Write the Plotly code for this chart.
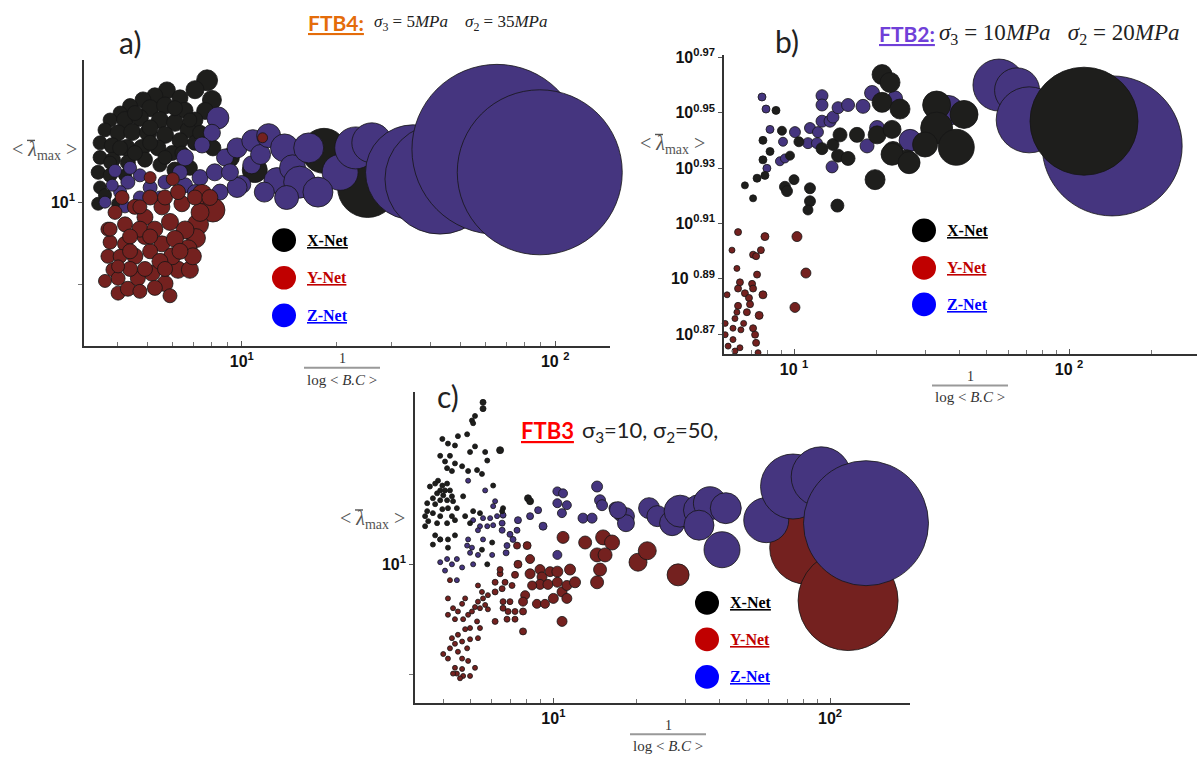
import plotly.graph_objects as go

# ---------------- data ----------------
# Panel a  (FTB4)
a_xnet_x = [7.75,7.09,8.03,7.64,5.77,6.35,5.28,4.84,4.40,4.09,5.10,5.69,6.59,7.09,3.80,4.24,4.73,5.48,6.12,6.74,
            3.66,4.03,4.47,5.02,5.69,6.35,7.09,3.53,3.86,4.30,4.80,5.40,5.99,3.53,3.88,4.33,4.91,5.48,3.48,3.80,
            4.24,3.53,3.48,4.03,6.12,6.83,3.66,7.36,8.09,9.17,11.0,18.3,25.2,
            4.56,5.10,4.09,4.56,5.10,5.69,6.44,3.80,6.12,6.83]
a_xnet_y = [11.69,11.55,11.40,11.24,11.54,11.43,11.46,11.40,11.31,11.21,11.28,11.32,11.25,11.11,11.11,11.11,11.14,11.11,11.07,10.97,
            10.97,10.93,10.94,10.93,10.90,10.82,10.79,10.79,10.75,10.72,10.72,10.72,10.65,10.59,10.56,10.52,10.56,10.49,10.39,10.35,
            10.35,10.19,9.98,9.98,10.42,10.45,10.09,10.93,10.72,10.59,10.42,10.68,10.19,
            11.21,11.00,10.72,10.65,10.79,10.59,10.65,10.52,11.28,11.11]
a_xnet_s = [21,18,19,17,17,16,16,16,15,14,17,17,16,16,14,17,17,17,17,16,
            14,16,17,17,17,16,15,14,16,17,17,16,15,14,15,15,15,14,14,14,
            13,13,13,13,16,15,13,15,16,19,25,45,60,
            15,16,15,15,15,14,14,13,15,14]

a_ynet_x = [7.47,8.09,7.25,7.14,6.26,5.69,4.03,4.33,3.74,3.88,4.91,5.56,4.56,5.17,5.99,6.59,4.24,5.56,6.44,4.24,
            4.91,4.15,6.02,3.80,3.94,4.56,5.10,4.73,5.28,5.90,6.74,5.10,4.03,4.66,4.73,3.66,5.48,7.36,6.12,4.40,
            4.09,5.69,6.26,5.90,5.28,5.10,11.65,6.83,6.98,4.40,3.74,
            3.80,4.40,4.91,5.69,6.35,7.09,5.10,4.03,4.73,7.91]
a_ynet_y = [10.10,9.90,9.72,9.55,9.17,9.01,8.90,8.95,9.33,9.17,9.81,9.48,9.33,9.13,9.33,9.65,9.72,9.94,9.98,9.48,
            9.57,10.06,10.30,9.50,9.87,9.94,10.06,9.66,9.66,9.75,9.42,9.39,9.07,9.07,8.92,9.04,9.27,9.87,9.54,9.18,
            9.33,10.06,10.13,8.87,8.96,10.32,10.86,9.17,9.33,9.57,9.66,
            9.66,9.39,9.18,9.18,9.39,10.06,9.57,9.21,9.94,10.06]
a_ynet_s = [20,24,21,19,17,16,14,15,14,14,16,16,16,16,17,18,15,16,16,15,
            16,14,13,14,14,15,15,16,16,17,18,15,14,15,14,13,16,18,17,15,
            14,15,15,14,15,12,10,17,17,15,14,
            14,15,15,15,16,15,15,13,14,16]

a_znet_x = [8.39,8.03,7.47,8.84,9.66,10.0,10.76,10.84,11.48,9.66,12.18,12.95,13.69,14.52,15.3,16.35,20.6,23.1,26.0,30.8,
            35.2,42.9,65.2,89.3,17.5,13.9,11.8,
            3.94,4.33,4.73,5.10,5.69,6.59,6.59,7.36,8.20,9.17,4.09,3.66,4.73,4.24,3.86,5.48,4.40,7.09,8.52,6.35]
a_znet_y = [11.14,10.93,10.76,10.59,10.72,10.23,10.49,10.82,10.63,10.19,10.89,10.28,10.72,10.45,10.26,10.72,10.39,10.72,10.79,10.59,
            10.39,10.30,10.70,10.39,10.13,10.06,10.13,
            10.41,10.26,10.35,10.19,10.26,10.59,10.22,10.32,10.39,10.39,10.13,10.0,10.06,9.94,10.22,10.06,10.45,10.13,10.13,10.39]
a_znet_s = [22,17,16,17,20,18,18,22,20,20,24,26,28,26,32,30,36,42,40,45,
            95,110,170,165,30,24,20,
            13,14,13,14,14,17,15,16,17,17,13,12,13,12,12,13,13,15,16,15]

# Panel b  (FTB2)
b_xnet_x = [8.60,9.04,7.71,8.18,9.67,7.71,7.34,7.84,6.63,7.10,10.0,9.27,9.43,11.43,11.43,11.24,14.38,10.42,12.64,13.86,
            14.70,14.46,15.72,16.94,19.71,20.9,22.34,20.9,24.29,20.05,22.72,22.91,25.75,33.0,41.5,33.0,38.9,29.95,22.72,26.2,113.3]
b_xnet_y = [8.93,8.78,8.71,8.63,8.60,8.57,8.44,8.46,8.39,8.30,8.43,8.38,8.35,8.37,8.28,8.22,8.25,8.70,8.65,8.68,
            8.75,8.60,8.58,8.75,8.43,9.20,9.14,8.99,8.94,8.75,8.79,8.63,8.57,8.97,8.90,8.80,8.66,8.68,8.61,8.55,8.85]
b_xnet_s = [8,9,8,8,9,8,8,8,7,7,10,11,11,11,11,10,13,10,12,12,
            14,13,14,15,20,20,20,20,20,18,18,20,20,28,28,32,36,25,22,22,108]

b_ynet_x = [6.26,7.84,10.25,5.95,7.10,7.58,7.28,6.20,7.34,11.05,6.36,7.04,6.26,6.63,5.71,7.10,7.71,6.86,6.26,6.92,
            6.20,6.74,7.47,10.08,6.10,6.56,5.62,6.00,6.41,7.10,5.62,7.22,6.00,7.28,6.36,5.76,6.10,7.40]
b_ynet_y = [8.07,8.04,8.04,7.95,7.92,7.95,7.91,7.83,7.79,7.80,7.74,7.73,7.70,7.67,7.66,7.70,7.66,7.64,7.59,7.60,
            7.55,7.55,7.53,7.58,7.51,7.48,7.48,7.45,7.44,7.45,7.41,7.41,7.38,7.36,7.33,7.34,7.31,7.30]
b_ynet_s = [7,8,10,6,7,7,7,6,7,10,7,7,7,7,6,7,8,7,7,7,
            6,7,8,10,6,6,6,6,6,7,6,7,6,7,6,6,6,6]

b_znet_x = [7.65,7.91,8.18,9.12,7.97,8.89,9.27,10.08,11.43,11.24,12.22,12.12,12.64,12.64,12.64,13.52,13.86,14.46,15.72,13.75,
            17.82,19.22,20.05,18.43,23.3,26.42,36.3,55.6,64.7,71.6,143.4]
b_znet_y = [9.03,8.94,8.79,8.70,8.51,8.56,8.58,8.77,8.80,8.69,8.77,8.69,9.04,8.97,8.85,8.85,8.88,8.95,8.97,8.52,
            8.96,9.06,8.80,8.67,9.02,8.71,8.93,9.12,9.08,8.86,8.67]
b_znet_s = [8,8,8,9,8,9,9,11,11,11,11,11,12,12,12,12,12,12,13,12,
            14,15,15,14,15,22,30,52,45,66,140]

# Panel c  (FTB3)
c_xnet_x = [5.57,5.57,5.21,5.08,5.13,4.52,4.88,3.97,4.16,4.41,5.21,5.67,6.42,5.00,3.90,4.23,4.06,4.41,4.68,4.13,
            4.30,5.77,5.30,4.92,5.52,3.83,3.74,3.97,4.13,3.58,3.90,4.06,4.23,3.80,4.00,4.30,3.67,3.90,4.13,4.34,
            3.50,3.74,4.72,6.06,4.48,4.16,3.97,3.50,3.67,3.44,3.90,4.30,3.53,3.80,4.13,4.41,4.80,3.44,5.00,5.13,
            5.43,3.74,3.90,4.16,4.41,3.67,4.16,6.58,6.53,8.10,8.24,5.52,6.01,5.77]
c_xnet_y = [11.67,11.60,11.52,11.47,11.44,11.30,11.32,11.27,11.22,11.20,11.19,11.13,11.15,11.13,11.09,11.09,11.03,11.01,10.98,10.96,
            10.93,11.04,10.94,10.93,10.90,10.83,10.80,10.78,10.80,10.77,10.73,10.73,10.73,10.70,10.68,10.67,10.65,10.63,10.63,10.62,
            10.60,10.59,10.67,10.78,10.55,10.55,10.54,10.52,10.50,10.47,10.47,10.47,10.42,10.40,10.40,10.43,10.47,10.37,10.40,10.52,
            10.50,10.28,10.24,10.24,10.28,10.19,10.16,10.55,10.52,10.65,10.62,10.14,10.21,10.0]
c_xnet_s = [6,6,5,5,5,5,5,5,5,5,5,5,7,5,5,5,5,5,5,5,
            5,5,5,5,5,5,5,5,5,5,5,5,5,5,5,5,5,5,5,5,
            5,5,5,5,5,5,5,5,5,5,5,5,5,5,5,5,5,5,5,5,
            5,5,5,5,5,5,5,5,5,7,7,5,5,5]

c_ynet_x = [4.16,4.34,4.68,4.80,4.52,4.16,4.41,4.72,4.92,5.08,5.21,5.43,5.34,5.57,5.67,5.80,5.30,5.43,5.00,4.80,
            4.52,4.30,4.68,5.00,5.34,4.41,4.23,4.88,4.52,4.00,4.16,4.68,4.92,4.41,4.68,5.21,4.48,4.72,4.34,5.00,
            4.60,
            4.23,6.16,6.42,6.16,6.53,6.69,7.27,7.09,5.34,5.52,5.80,6.58,6.97,6.58,6.86,7.27,6.80,7.27,6.16,7.77,
            7.77,6.42,7.45,7.39,8.04,8.24,8.95,8.24,9.10,9.73,10.34,11.49,8.95,9.56,10.34,8.38,7.91,7.77,8.72,9.33,
            10.0,10.75,11.19,11.98,11.19,10.75,10.84,13.03,15.13,16.3,14.39,15.38,14.75,14.39,20.23,21.85,28.24,82.0,116.2]
c_ynet_y = [9.68,9.59,9.63,9.68,9.56,9.53,9.49,9.49,9.53,9.56,9.60,9.59,9.65,9.68,9.62,9.58,9.47,9.41,9.41,9.40,
            9.35,9.32,9.29,9.31,9.32,9.27,9.23,9.23,9.20,9.18,9.14,9.14,9.12,9.06,9.05,9.06,9.01,8.99,9.01,8.99,
            8.97,
            9.85,9.83,9.91,9.74,9.77,9.83,9.90,9.80,9.80,9.74,9.71,9.65,9.65,9.59,9.56,9.56,9.49,9.49,9.47,9.56,
            9.38,9.95,10.0,10.18,10.18,10.05,9.95,9.91,9.88,9.93,9.93,9.95,9.81,9.81,9.83,9.80,9.71,9.65,9.63,9.63,
            9.68,9.74,9.80,9.83,9.68,9.47,10.26,10.21,10.26,10.21,10.09,10.09,9.95,9.83,10.02,10.13,9.90,10.16,9.66]
c_ynet_s = [5,5,5,5,5,5,5,5,5,5,5,5,5,5,5,5,5,5,5,5,
            5,5,5,5,5,5,5,5,5,5,5,5,5,5,5,5,5,5,5,5,
            5,
            5,6,6,6,6,6,7,6,5,5,5,6,6,6,6,6,6,6,6,7,
            7,6,8,7,8,9,10,10,10,10,11,11,10,10,10,9,9,9,9,9,
            10,10,10,11,10,10,12,13,15,15,14,14,13,13,18,18,22,73,100]

c_znet_x = [4.92,5.67,6.16,6.06,5.13,5.57,5.91,6.26,6.58,5.43,5.77,6.06,6.53,5.34,6.53,3.90,4.92,5.57,4.88,5.08,
            5.00,5.34,6.01,4.48,4.13,3.90,4.30,5.13,4.06,4.68,4.48,6.97,7.15,7.39,6.80,6.75,7.45,8.24,8.81,9.18,
            10.34,10.34,10.84,10.34,11.19,10.74,14.39,14.75,15.0,12.80,13.80,16.7,17.42,18.3,18.3,17.13,22.18,23.77,26.86,28.71,
            33.6,36.8,42.0,33.6,40.7,58.8,73.5,92.9,134.9]
c_znet_y = [10.83,10.73,10.62,10.57,10.43,10.45,10.45,10.47,10.48,10.37,10.37,10.38,10.40,10.33,10.33,10.24,10.24,10.24,10.18,10.16,
            10.11,10.09,10.09,10.05,10.05,10.02,10.0,10.0,9.94,9.97,9.85,10.29,10.24,10.33,10.18,10.11,10.43,10.47,10.53,10.37,
            10.09,10.72,10.70,10.60,10.58,10.50,10.77,10.63,10.58,10.45,10.45,10.55,10.48,10.47,10.40,10.53,10.55,10.47,10.40,10.52,
            10.53,10.60,10.55,10.38,10.14,10.43,10.77,10.87,10.40]
c_znet_s = [5,5,5,5,5,5,5,5,6,5,5,5,6,5,6,5,5,5,5,5,
            5,5,5,5,5,5,5,5,5,5,5,6,6,6,6,6,7,7,7,8,
            9,9,9,9,9,9,11,11,11,10,10,12,12,17,17,17,21,21,25,32,
            31,33,31,30,36,45,65,60,125]

# axis tick labels
x_tickvals = [10, 100]
a_xticktext = ["10<sup>1</sup>", "10 <sup>2</sup>"]
b_xticktext = ["10 <sup>1</sup>", "10 <sup>2</sup>"]
c_xticktext = ["10<sup>1</sup>", "10<sup>2</sup>"]
x_minor = [4, 5, 6, 7, 8, 9, 20, 30, 40, 50, 60, 70, 80, 90, 200]
ac_ytickvals = [10]
ac_yticktext = ["10<sup>1</sup>"]
ac_yminor = [9]
b_yexps = [0.87, 0.89, 0.91, 0.93, 0.95, 0.97]
b_yticktext = ["10<sup>0.87</sup>", "10 <sup>0.89</sup>", "10<sup>0.91</sup>",
               "10<sup>0.93</sup>", "10<sup>0.95</sup>", "10<sup>0.97</sup>"]
b_ytickvals = [10 ** e for e in b_yexps]

# ---------------- styling ----------------
W, H = 1197, 757
def PX(p):
    return p / W
def PY(p):
    return 1 - p / H

COL_X = "#1e1e1c"
COL_Y = "#74211f"
COL_Z = "#45357f"
EDGE = "#151515"

fig = go.Figure()

def add(xs, ys, ss, col, xa, ya):
    fig.add_trace(go.Scatter(
        x=xs, y=ys, mode="markers", xaxis=xa, yaxis=ya, cliponaxis=False,
        hoverinfo="skip", showlegend=False,
        marker=dict(size=ss, sizemode="diameter", color=col, opacity=1,
                    line=dict(color=EDGE, width=0.8))))

# panel a: black, blue, red
add(a_xnet_x, a_xnet_y, a_xnet_s, COL_X, "x", "y")
add(a_znet_x, a_znet_y, a_znet_s, COL_Z, "x", "y")
add(a_ynet_x, a_ynet_y, a_ynet_s, COL_Y, "x", "y")
# panel b
add(b_znet_x, b_znet_y, b_znet_s, COL_Z, "x2", "y2")
add(b_xnet_x, b_xnet_y, b_xnet_s, COL_X, "x2", "y2")
add(b_ynet_x, b_ynet_y, b_ynet_s, COL_Y, "x2", "y2")
# panel c
add(c_ynet_x, c_ynet_y, c_ynet_s, COL_Y, "x3", "y3")
add(c_znet_x, c_znet_y, c_znet_s, COL_Z, "x3", "y3")
add(c_xnet_x, c_xnet_y, c_xnet_s, COL_X, "x3", "y3")

tickfont = dict(family="Liberation Sans", size=16, color="#111", weight="bold")

def xax(dom, rng, anchor, ttext):
    return dict(type="log", domain=dom, range=rng, anchor=anchor, showgrid=False, zeroline=False,
                showline=True, linecolor="#333", linewidth=1.6, ticks="inside", ticklen=5,
                tickcolor="#555", tickvals=x_tickvals, ticktext=ttext, tickfont=tickfont,
                minor=dict(tickvals=x_minor, ticks="inside", ticklen=4, tickcolor="#777"),
                fixedrange=True)

def yax(dom, rng, anchor, tvals, ttext, minor_vals=None):
    d = dict(type="log", domain=dom, range=rng, anchor=anchor, showgrid=False, zeroline=False,
             showline=True, linecolor="#333", linewidth=1.6, ticks="outside", ticklen=4,
             tickcolor="#555", tickvals=tvals, ticktext=ttext, tickfont=tickfont,
             fixedrange=True)
    if minor_vals:
        d["minor"] = dict(tickvals=minor_vals, ticks="outside", ticklen=4, tickcolor="#777")
    return d

fig.update_layout(
    width=W, height=H, margin=dict(l=0, r=0, t=0, b=0),
    paper_bgcolor="white", plot_bgcolor="rgba(0,0,0,0)", showlegend=False,
    xaxis=xax([PX(84), PX(610)], [0.4965, 2.175], "y", a_xticktext),
    yaxis=yax([PY(341), PY(52)], [0.920, 1.0789], "x", ac_ytickvals, ac_yticktext, ac_yminor),
    xaxis2=xax([PX(724), 1.0], [0.7455, 2.465], "y2", b_xticktext),
    yaxis2=yax([PY(349), PY(47)], [0.8629, 0.9707], "x2", b_ytickvals, b_yticktext),
    xaxis3=xax([PX(415), PX(910)], [0.50, 2.289], "y3", c_xticktext),
    yaxis3=yax([PY(702), PY(388)], [0.9427, 1.0712], "x3", ac_ytickvals, ac_yticktext, ac_yminor),
)

ann = []
shapes = []
def text(x, y, t, size, color="#222", family="Liberation Serif", xanchor="center", weight="normal"):
    ann.append(dict(x=PX(x), y=PY(y), xref="paper", yref="paper", text=t, showarrow=False,
                    xanchor=xanchor, yanchor="middle",
                    font=dict(family=family, size=size, color=color, weight=weight)))

def hline(x0, x1, y, color, width):
    shapes.append(dict(type="line", xref="paper", yref="paper", x0=PX(x0), x1=PX(x1),
                       y0=PY(y), y1=PY(y), line=dict(color=color, width=width)))

# panel labels and titles
text(130, 33, "a)", 30, "#222", "Lato")
text(336, 14, "<u>FTB4:</u>", 21, "#e46c0a", "Lato", weight="bold")
text(372, 14, "<i>σ</i><sub>3</sub> = 5<i>MPa</i>    <i>σ</i><sub>2</sub> = 35<i>MPa</i>", 17, "#222", xanchor="left")
text(787, 32, "b)", 30, "#222", "Lato")
text(907, 25, "<u>FTB2:</u>", 21, "#7040d8", "Lato", weight="bold")
text(937, 25, "<i>σ</i><sub>3</sub> = 10<i>MPa</i>   <i>σ</i><sub>2</sub> = 20<i>MPa</i>", 23, "#222", xanchor="left")
text(448, 392, "c)", 30, "#222", "Lato")
text(547, 427, "<u>FTB3</u>", 22, "#ff0000", "Lato", weight="bold")
text(580, 427, "σ<sub>3</sub>=10, σ<sub>2</sub>=50,", 22, "#222", "Lato", xanchor="left")

# axis titles  (< lambda-bar_max >), the bar drawn as a short line above the lambda
ylab = "< <i>λ</i><sub>max</sub> >"
for cx, cy in [(44, 143), (672, 137), (372, 517)]:
    text(cx, cy, ylab, 20, "#555")
    hline(cx - 17, cx - 9, cy - 10, "#555", 1.4)
for cx, ly in [(342, 363), (970, 381), (668, 734)]:
    text(cx, ly - 9, "1", 14, "#333")
    text(cx, ly + 12, "log < <i>B.C</i> >", 15, "#333")
    hline(cx - 38, cx + 38, ly, "#999", 2)

# legends
leg_names = ["X-Net", "Y-Net", "Z-Net"]
leg_glyph = ["#000000", "#c00000", "#0000ff"]
leg_text = ["#000000", "#c00000", "#0000ff"]
for cx, ys in [(284, [234, 272, 310]), (924, [224, 262, 299]), (707, [601, 638, 676])]:
    for nm, gc, tc, yy in zip(leg_names, leg_glyph, leg_text, ys):
        r = 12
        shapes.append(dict(type="circle", xref="paper", yref="paper",
                           x0=PX(cx - r), x1=PX(cx + r), y0=PY(yy + r), y1=PY(yy - r),
                           fillcolor=gc, line=dict(width=0)))
        text(cx + 21, yy, "<u><b>" + nm + "</b></u>", 16, tc, "Liberation Serif", xanchor="left")

fig.update_layout(annotations=ann, shapes=shapes)
fig.write_html("out.html")
